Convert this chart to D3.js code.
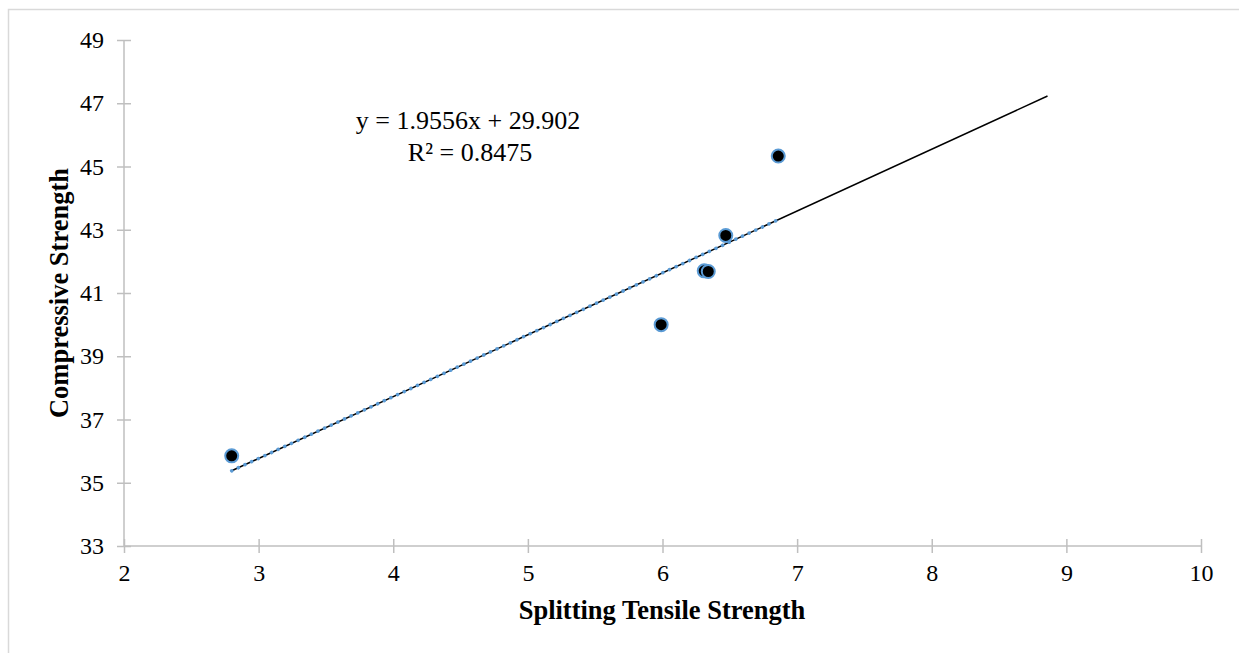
<!DOCTYPE html>
<html>
<head>
<meta charset="utf-8">
<script src="https://cdn.jsdelivr.net/npm/d3@7"></script>
<style>
  body { margin: 0; background: #fff; }
</style>
</head>
<body>
<div id="chart"></div>
<script>
// measured points
var tensile = [2.80, 5.99, 6.31, 6.34, 6.47, 6.86];
var compressive = [35.85, 40.00, 41.70, 41.68, 42.82, 45.33];

var xTicks = [2, 3, 4, 5, 6, 7, 8, 9, 10];
var yTicks = [33, 35, 37, 39, 41, 43, 45, 47, 49];

// linear trendline from the chart label
var slope = 1.9556;
var intercept = 29.902;
var r2 = 0.8475;
var forecastEnd = 8.86;

var serif = '"Liberation Serif", "Times New Roman", serif';

var fullWidth = 1239;
var fullHeight = 653;
var margin = {top: 40, right: 38, bottom: 107, left: 124};
var width = fullWidth - margin.left - margin.right;
var height = fullHeight - margin.top - margin.bottom;

var svg = d3.select('#chart').append('svg')
  .attr('width', fullWidth)
  .attr('height', fullHeight)
  .style('font-family', serif);

// light chart border
svg.append('rect')
  .attr('x', 8.5).attr('y', 9.5)
  .attr('width', fullWidth + 20).attr('height', fullHeight + 20)
  .attr('fill', 'none')
  .attr('stroke', '#d9d9d9')
  .attr('stroke-width', 1.5);

var g = svg.append('g')
  .attr('transform', 'translate(' + margin.left + ',' + margin.top + ')');

var xScale = d3.scaleLinear().domain([2, 10]).range([0, width]);
var yScale = d3.scaleLinear().domain([33, 49]).range([height, 0]);

var xAxis = d3.axisBottom(xScale).tickValues(xTicks).tickSize(7).tickPadding(10)
  .tickFormat(d3.format('d'));
var yAxis = d3.axisLeft(yScale).tickValues(yTicks).tickSize(7).tickPadding(13)
  .tickFormat(d3.format('d'));

var gx = g.append('g')
  .attr('transform', 'translate(0,' + height + ')')
  .call(xAxis);
var gy = g.append('g').call(yAxis);

// axis styling, ticks cross the axis line
[gx, gy].forEach(function(a) {
  a.attr('font-family', serif).attr('font-size', 24);
  a.select('.domain').attr('stroke', '#bfbfbf').attr('stroke-width', 1.5);
  a.selectAll('.tick line').attr('stroke', '#bfbfbf').attr('stroke-width', 1.5);
  a.selectAll('.tick text')
    .style('font-family', serif)
    .style('font-size', '24px')
    .attr('fill', '#000');
});
gx.select('.domain').attr('d', 'M0,0H' + width);
gy.select('.domain').attr('d', 'M0,' + height + 'V0');
gx.selectAll('.tick line').attr('y1', -7).attr('y2', 7);
gx.selectAll('.tick text').attr('y', 18);
gy.selectAll('.tick line').attr('x1', 7).attr('x2', -7);
gy.selectAll('.tick text').attr('x', -20);

// trendline, forecast forward (solid black)
var line = d3.line()
  .x(function(d) { return xScale(d); })
  .y(function(d) { return yScale(slope * d + intercept); });

var xMin = d3.min(tensile);
var xMax = d3.max(tensile);

g.append('path')
  .datum([xMin, forecastEnd])
  .attr('d', line)
  .attr('fill', 'none')
  .attr('stroke', '#000')
  .attr('stroke-width', 1.5);

// trendline over the data range (blue round dots)
g.append('path')
  .datum([xMin, xMax])
  .attr('d', line)
  .attr('fill', 'none')
  .attr('stroke', '#5b9bd5')
  .attr('stroke-width', 3.6)
  .attr('stroke-linecap', 'round')
  .attr('stroke-dasharray', '0.1 7.2');

// points
g.selectAll('circle.pt')
  .data(d3.range(tensile.length))
  .enter().append('circle')
    .classed('pt', true)
    .attr('cx', function(i) { return xScale(tensile[i]); })
    .attr('cy', function(i) { return yScale(compressive[i]); })
    .attr('r', 6.5)
    .attr('fill', '#000')
    .attr('stroke', '#5b9bd5')
    .attr('stroke-width', 2);

// equation label
var eq = g.append('text')
  .attr('text-anchor', 'middle')
  .style('font-family', serif)
  .style('font-size', '26px');
eq.append('tspan')
  .attr('x', 468 - margin.left).attr('y', 129 - margin.top)
  .text('y = ' + slope + 'x + ' + intercept);
eq.append('tspan')
  .attr('x', 470 - margin.left).attr('y', 161 - margin.top)
  .text('R² = ' + r2);

// axis titles
svg.append('text')
  .attr('x', 662).attr('y', 619)
  .attr('text-anchor', 'middle')
  .style('font-family', serif)
  .style('font-size', '26.5px')
  .style('font-weight', 'bold')
  .text('Splitting Tensile Strength');

svg.append('text')
  .attr('transform', 'translate(68,293) rotate(-90)')
  .attr('text-anchor', 'middle')
  .style('font-family', serif)
  .style('font-size', '26.5px')
  .style('font-weight', 'bold')
  .text('Compressive Strength');
</script>
</body>
</html>
